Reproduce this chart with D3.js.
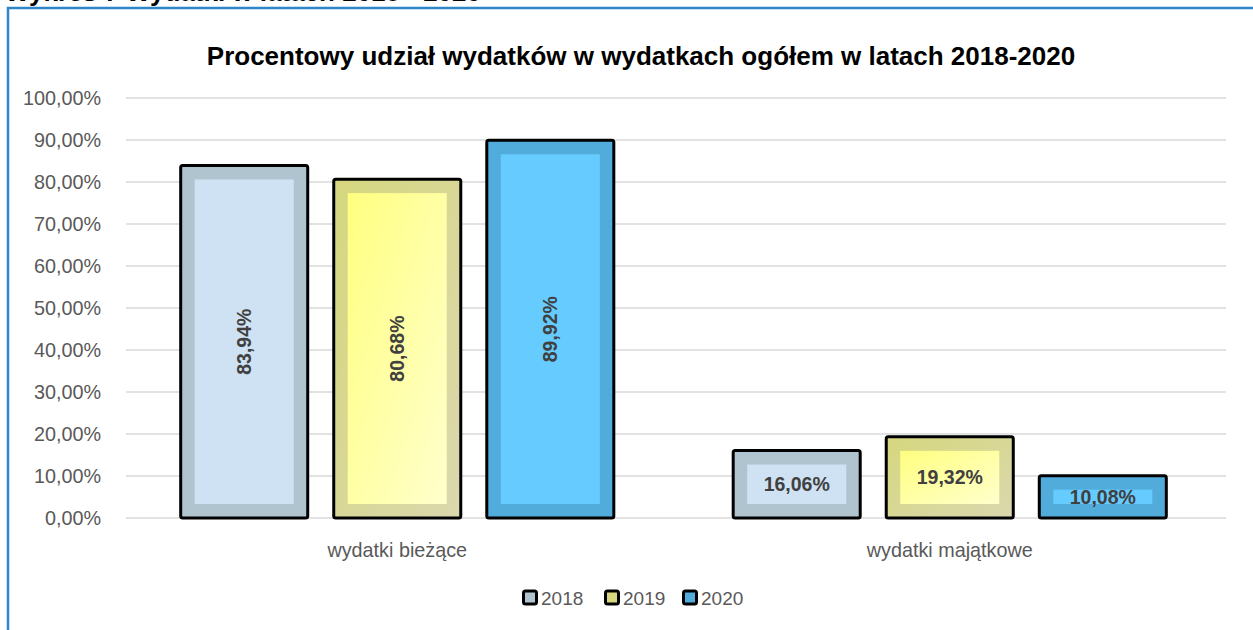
<!DOCTYPE html>
<html><head><meta charset="utf-8">
<script src="https://cdn.jsdelivr.net/npm/d3@7/dist/d3.min.js"></script>
<style>body{margin:0;background:#fff;}svg{display:block;font-family:"Liberation Sans",Arial,sans-serif;}</style>
</head><body>
<svg id="c" width="1253" height="630"></svg>
<script>
const categories = ["wydatki bieżące", "wydatki majątkowe"];
const years = ["2018", "2019", "2020"];
const values2018 = [83.94, 16.06];
const values2019 = [80.68, 19.32];
const values2020 = [89.92, 10.08];
const yTicks = [0,10,20,30,40,50,60,70,80,90,100];
const titleText = "Procentowy udział wydatków w wydatkach ogółem w latach 2018-2020";
const captionText = "Wykres 7 Wydatki w latach 2018 - 2020";

const seriesValues = [values2018, values2019, values2020];
const fmt = v => v.toFixed(2).replace(".", ",") + "%";

const svg = d3.select("#c");
const defs = svg.append("defs");
const styles = [
  {outer:["#B0C4D0","#B0C4D0"], inner:["#CFE2F3","#CFE2F3"]},
  {outer:["#D6D77E","#DAD8AE"], inner:["#FFFF80","#FFFFCC"]},
  {outer:["#52ACDB","#52ACDB"], inner:["#66CCFF","#66CCFF"]}
];
styles.forEach((s,i)=>{
  ["outer","inner"].forEach(k=>{
    const g = defs.append("linearGradient").attr("id",`g${i}${k}`)
      .attr("x1","0").attr("y1","0").attr("x2","1").attr("y2","1");
    g.append("stop").attr("offset","0").attr("stop-color",s[k][0]);
    g.append("stop").attr("offset","1").attr("stop-color",s[k][1]);
  });
});

// caption (cut off at top, as in the reference)
svg.append("text").attr("x",5).attr("y",1).attr("font-size",26).attr("font-weight","bold")
  .attr("fill","#000").text(captionText);

// frame
svg.append("rect").attr("x",8).attr("y",8).attr("width",1260).attr("height",640)
  .attr("fill","none").attr("stroke","#2E86C8").attr("stroke-width",2.5);

const pLeft = 121, pRight = 1226, pTop = 98, pBottom = 518;
const x0 = d3.scaleBand().domain(categories).range([pLeft,pRight]).paddingInner(0).paddingOuter(0);
const x1 = d3.scaleBand().domain(years).range([0,x0.bandwidth()]).paddingInner(0.17).paddingOuter(0.39);
const y = d3.scaleLinear().domain([0,100]).range([pBottom,pTop]);

// gridlines
svg.append("g").selectAll("line").data(yTicks).join("line")
  .attr("x1",126).attr("x2",pRight).attr("y1",d=>y(d)).attr("y2",d=>y(d))
  .attr("stroke","#D9D9D9").attr("stroke-width",1.3);

// y axis labels
const yAxis = d3.axisLeft(y).tickValues(yTicks).tickSize(0).tickPadding(0).tickFormat(d=>d.toFixed(2).replace(".",",")+"%");
const ya = svg.append("g").attr("transform",`translate(101,0)`).call(yAxis);
ya.select(".domain").remove();
ya.selectAll("text").attr("font-size",19.8).attr("fill","#595959").attr("font-family","'Liberation Sans',Arial,sans-serif").attr("dy","0.35em");

// x labels
const xAxis = d3.axisBottom(x0).tickSize(0).tickPadding(0);
const xa = svg.append("g").attr("transform",`translate(0,${pBottom})`).call(xAxis);
xa.select(".domain").remove();
xa.selectAll("text").attr("font-size",19.8).attr("fill","#595959").attr("font-family","'Liberation Sans',Arial,sans-serif").attr("dy","39");

// bars
const data = [];
categories.forEach((c,ci)=>years.forEach((yr,si)=>data.push({c,yr,si,v:seriesValues[si][ci]})));
const inset = 14;
const bars = svg.append("g").selectAll("g").data(data).join("g")
  .attr("transform",d=>`translate(${x0(d.c)+x1(d.yr)},0)`);
bars.append("rect").attr("x",0).attr("y",d=>y(d.v)).attr("width",x1.bandwidth())
  .attr("height",d=>pBottom-y(d.v)).attr("fill",d=>`url(#g${d.si}outer)`);
bars.append("rect").attr("x",inset).attr("y",d=>y(d.v)+inset).attr("width",x1.bandwidth()-2*inset)
  .attr("height",d=>Math.max(0,pBottom-y(d.v)-2*inset)).attr("fill",d=>`url(#g${d.si}inner)`);
bars.append("rect").attr("x",0).attr("y",d=>y(d.v)).attr("width",x1.bandwidth())
  .attr("height",d=>pBottom-y(d.v)).attr("fill","none").attr("stroke","#000").attr("stroke-width",3)
  .attr("rx",2);

// labels
bars.append("text")
  .attr("transform",d=>{
    const cx = x1.bandwidth()/2, cy = (y(d.v)+pBottom)/2;
    return d.v>50 ? `translate(${cx},${cy}) rotate(-90)` : `translate(${cx},${cy})`;
  })
  .attr("text-anchor","middle").attr("dy","0.35em")
  .attr("font-size",19.5).attr("font-weight","bold").attr("fill","#404040")
  .text(d=>fmt(d.v));

// title
svg.append("text").attr("x",641).attr("y",65).attr("text-anchor","middle")
  .attr("font-size",26).attr("font-weight","bold").attr("fill","#000").text(titleText);

// legend
const legX = [522, 604, 682];
const lg = svg.append("g").selectAll("g").data(years).join("g")
  .attr("transform",(d,i)=>`translate(${legX[i]},598)`);
lg.append("rect").attr("x",1.5).attr("y",-7).attr("width",13).attr("height",13).attr("rx",2)
  .attr("fill",(d,i)=>styles[i].outer[0]).attr("stroke","#000").attr("stroke-width",3);
lg.append("text").attr("x",19).attr("y",0).attr("dy","0.35em").attr("font-size",19)
  .attr("fill","#595959").text(d=>d);
</script>
</body></html>
